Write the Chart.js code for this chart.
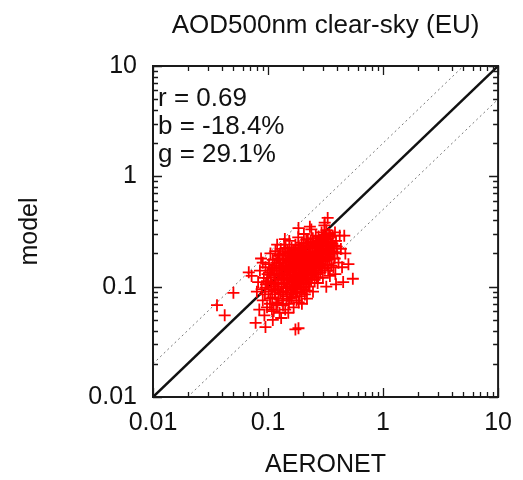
<!DOCTYPE html>
<html>
<head>
<meta charset="utf-8">
<script src="https://cdn.jsdelivr.net/npm/chart.js@4"></script>
<style>
  html, body { margin: 0; padding: 0; background: #fff; }
  canvas { display: block; }
</style>
</head>
<body>
<canvas id="c" width="523" height="480"></canvas>
<script>
// AOD at 500 nm, clear-sky days, European stations: AERONET (x) vs model (y)
const aeronetAod = [
  0.036, 0.042, 0.050, 0.068, 0.072, 0.078, 0.095, 0.173, 0.184, 0.546,
  0.082, 0.085, 0.088, 0.090, 0.090, 0.092, 0.094, 0.095, 0.096, 0.098,
  0.099, 0.080, 0.084, 0.087, 0.093, 0.110, 0.130, 0.150, 0.120, 0.140,
  0.100, 0.101, 0.102, 0.104, 0.105, 0.106, 0.108, 0.109, 0.110, 0.111,
  0.112, 0.113, 0.115, 0.116, 0.117, 0.118, 0.120, 0.121, 0.122, 0.123,
  0.124, 0.125, 0.126, 0.127, 0.128, 0.129, 0.130, 0.100, 0.103, 0.107,
  0.114, 0.119, 0.121, 0.124, 0.128,
  0.131, 0.132, 0.133, 0.134, 0.135, 0.136, 0.137, 0.138, 0.139, 0.140,
  0.141, 0.142, 0.143, 0.144, 0.145, 0.146, 0.147, 0.148, 0.149, 0.150,
  0.151, 0.152, 0.153, 0.154, 0.155, 0.156, 0.157, 0.158, 0.159, 0.160,
  0.161, 0.162, 0.163, 0.164, 0.165, 0.166, 0.167, 0.168, 0.169, 0.170,
  0.133, 0.137, 0.141, 0.146, 0.149, 0.154, 0.158, 0.163, 0.166, 0.169,
  0.171, 0.172, 0.173, 0.174, 0.175, 0.176, 0.177, 0.178, 0.179, 0.180,
  0.181, 0.182, 0.183, 0.184, 0.185, 0.186, 0.187, 0.188, 0.189, 0.190,
  0.191, 0.192, 0.193, 0.194, 0.195, 0.196, 0.197, 0.198, 0.199, 0.200,
  0.201, 0.202, 0.203, 0.204, 0.205, 0.206, 0.207, 0.208, 0.209, 0.210,
  0.211, 0.212, 0.213, 0.214, 0.215, 0.216, 0.217, 0.218, 0.219, 0.220,
  0.174, 0.178, 0.183, 0.187, 0.192, 0.196, 0.201, 0.205, 0.210, 0.214, 0.218,
  0.222, 0.224, 0.226, 0.228, 0.230, 0.232, 0.234, 0.236, 0.238, 0.240,
  0.242, 0.244, 0.246, 0.248, 0.250, 0.252, 0.254, 0.256, 0.258, 0.260,
  0.262, 0.264, 0.266, 0.268, 0.270, 0.272, 0.274, 0.276, 0.278, 0.280,
  0.225, 0.231, 0.237, 0.243, 0.249, 0.255, 0.261, 0.267, 0.273, 0.279,
  0.283, 0.286, 0.289, 0.292, 0.295, 0.298, 0.300, 0.303, 0.306, 0.309,
  0.312, 0.315, 0.318, 0.321, 0.324, 0.327, 0.330, 0.333, 0.336, 0.339,
  0.342, 0.345, 0.348, 0.351, 0.355, 0.288, 0.297, 0.311, 0.320, 0.331,
  0.340, 0.231, 0.184, 0.330,
  0.360, 0.365, 0.370, 0.375, 0.380, 0.385, 0.390, 0.400, 0.410, 0.420,
  0.430, 0.440, 0.460, 0.470, 0.500, 0.450, 0.390,
  0.125, 0.135, 0.145, 0.155, 0.165, 0.175, 0.185, 0.195, 0.205, 0.215,
  0.225, 0.235, 0.245, 0.255, 0.265, 0.275, 0.285, 0.295, 0.305, 0.315,
  0.145, 0.155, 0.165, 0.175, 0.185, 0.195, 0.205, 0.215, 0.225, 0.235,
  0.245, 0.255, 0.265, 0.275, 0.285, 0.295, 0.305, 0.315, 0.325, 0.335,
  0.110, 0.118, 0.126, 0.134, 0.142, 0.152, 0.162, 0.172, 0.182, 0.192,
  0.202, 0.212, 0.222, 0.232, 0.242, 0.252, 0.262, 0.272, 0.282, 0.292,
  0.302, 0.312, 0.322, 0.332, 0.346, 0.352, 0.362, 0.372, 0.382, 0.395,
  0.095, 0.105, 0.115, 0.125, 0.135, 0.105, 0.115, 0.098, 0.108, 0.118,
  0.135, 0.145, 0.155, 0.165, 0.175, 0.185, 0.195, 0.205, 0.215, 0.225
];
const modelAod = [
  0.068, 0.055, 0.088, 0.135, 0.125, 0.047, 0.043, 0.041, 0.042, 0.118,
  0.110, 0.140, 0.095, 0.165, 0.075, 0.120, 0.085, 0.150, 0.105, 0.065,
  0.130, 0.090, 0.062, 0.180, 0.055, 0.050, 0.052, 0.058, 0.240, 0.270,
  0.120, 0.090, 0.160, 0.070, 0.200, 0.110, 0.140, 0.080, 0.175, 0.100,
  0.060, 0.130, 0.085, 0.210, 0.115, 0.150, 0.095, 0.072, 0.125, 0.190,
  0.105, 0.165, 0.058, 0.140, 0.088, 0.220, 0.118, 0.105, 0.135, 0.095,
  0.155, 0.068, 0.180, 0.078, 0.155,
  0.100, 0.145, 0.075, 0.200, 0.120, 0.090, 0.165, 0.240, 0.108, 0.135,
  0.062, 0.180, 0.097, 0.155, 0.118, 0.082, 0.210, 0.128, 0.105, 0.170,
  0.145, 0.070, 0.260, 0.115, 0.190, 0.092, 0.135, 0.160, 0.110, 0.225,
  0.080, 0.150, 0.125, 0.185, 0.100, 0.140, 0.065, 0.200, 0.120, 0.165,
  0.130, 0.115, 0.150, 0.100, 0.190, 0.135, 0.085, 0.110, 0.175, 0.095,
  0.130, 0.098, 0.240, 0.155, 0.112, 0.180, 0.075, 0.140, 0.205, 0.120,
  0.090, 0.170, 0.280, 0.145, 0.105, 0.190, 0.130, 0.082, 0.160, 0.220,
  0.118, 0.150, 0.100, 0.185, 0.135, 0.250, 0.070, 0.165, 0.125, 0.200,
  0.145, 0.095, 0.175, 0.115, 0.300, 0.155, 0.135, 0.210, 0.085, 0.170,
  0.125, 0.190, 0.148, 0.105, 0.235, 0.160, 0.130, 0.078, 0.180, 0.140,
  0.125, 0.165, 0.110, 0.200, 0.135, 0.115, 0.180, 0.120, 0.155, 0.195, 0.110,
  0.270, 0.120, 0.195, 0.155, 0.100, 0.220, 0.140, 0.175, 0.330, 0.125,
  0.200, 0.160, 0.090, 0.250, 0.145, 0.185, 0.115, 0.210, 0.165, 0.290,
  0.130, 0.190, 0.150, 0.240, 0.108, 0.175, 0.210, 0.140, 0.260, 0.160,
  0.165, 0.185, 0.115, 0.235, 0.170, 0.135, 0.205, 0.170, 0.120, 0.195,
  0.220, 0.135, 0.180, 0.310, 0.155, 0.200, 0.120, 0.245, 0.170, 0.360,
  0.145, 0.215, 0.185, 0.100, 0.270, 0.160, 0.230, 0.140, 0.195, 0.300,
  0.175, 0.125, 0.250, 0.210, 0.155, 0.250, 0.175, 0.380, 0.235, 0.185,
  0.210, 0.350, 0.340, 0.420,
  0.200, 0.290, 0.150, 0.235, 0.180, 0.130, 0.260, 0.200, 0.165, 0.290,
  0.220, 0.150, 0.290, 0.200, 0.160, 0.110, 0.105,
  0.175, 0.155, 0.165, 0.205, 0.215, 0.195, 0.235, 0.215, 0.245, 0.265,
  0.235, 0.255, 0.275, 0.225, 0.225, 0.285, 0.265, 0.280, 0.290, 0.255,
  0.125, 0.145, 0.112, 0.102, 0.152, 0.108, 0.128, 0.118, 0.142, 0.158,
  0.132, 0.152, 0.122, 0.185, 0.158, 0.148, 0.205, 0.172, 0.212, 0.245,
  0.145, 0.165, 0.195, 0.175, 0.225, 0.205, 0.195, 0.215, 0.185, 0.175,
  0.225, 0.205, 0.182, 0.198, 0.182, 0.225, 0.242, 0.228, 0.205, 0.235,
  0.265, 0.295, 0.325, 0.275, 0.285, 0.230, 0.245, 0.205, 0.310, 0.230,
  0.098, 0.128, 0.108, 0.132, 0.085, 0.078, 0.092, 0.112, 0.062, 0.070,
  0.068, 0.075, 0.078, 0.088, 0.090, 0.072, 0.088, 0.098, 0.092, 0.108
];

// reference lines: 1:1 and factor-of-two envelope
const oneToOneX = [0.01, 10];
const oneToOneY = [0.01, 10];
const upperX = [0.01, 5];
const upperY = [0.02, 10];
const lowerX = [0.02, 10];
const lowerY = [0.01, 5];

// axis decades and their labels
const decades = [0.01, 0.1, 1, 10];
const decadeLabels = ['0.01', '0.1', '1', '10'];

// summary statistics printed in the upper-left corner
const statsLines = ['r = 0.69', 'b = -18.4%', 'g = 29.1%'];

const FONT = '"Liberation Sans", Arial, Helvetica, sans-serif';
const toPoints = (xs, ys) => xs.map((v, i) => ({ x: v, y: ys[i] }));

function logTicks(scale) {
  const t = [];
  for (let d = 0; d < decades.length - 1; d++) {
    for (let m = 1; m <= 9; m++) t.push({ value: +(decades[d] * m).toPrecision(3) });
  }
  t.push({ value: decades[decades.length - 1] });
  scale.ticks = t;
}
function labelFor(value) {
  const i = decades.indexOf(value);
  return i >= 0 ? decadeLabels[i] : '';
}

// inward tick marks on all four sides, the frame, and the statistics text
const frameTicks = {
  id: 'frameTicks',
  afterDraw(chart) {
    const { ctx, chartArea: a, scales: { x, y } } = chart;
    ctx.save();
    ctx.strokeStyle = '#1a1a1a';
    ctx.lineWidth = 1.3;
    ctx.beginPath();
    x.ticks.forEach(t => {
      const px = Math.round(x.getPixelForValue(t.value)) + 0.5;
      const len = decades.includes(t.value) ? 9 : 5;
      ctx.moveTo(px, a.bottom); ctx.lineTo(px, a.bottom - len);
      ctx.moveTo(px, a.top); ctx.lineTo(px, a.top + len);
    });
    y.ticks.forEach(t => {
      const py = Math.round(y.getPixelForValue(t.value)) + 0.5;
      const len = decades.includes(t.value) ? 9 : 5;
      ctx.moveTo(a.left, py); ctx.lineTo(a.left + len, py);
      ctx.moveTo(a.right, py); ctx.lineTo(a.right - len, py);
    });
    ctx.stroke();
    ctx.lineWidth = 2;
    ctx.strokeRect(a.left, a.top, a.right - a.left, a.bottom - a.top);

    ctx.fillStyle = '#111';
    ctx.font = '26px ' + FONT;
    ctx.textAlign = 'left';
    ctx.textBaseline = 'middle';
    statsLines.forEach((s, i) => ctx.fillText(s, a.left + 5, a.top + 33 + i * 28));
    ctx.restore();
  }
};

const axisCommon = (title, isX) => ({
  type: 'logarithmic',
  min: 0.01,
  max: 10,
  afterBuildTicks: logTicks,
  grid: { display: false, drawTicks: false },
  border: { display: false },
  ticks: {
    autoSkip: false,
    maxRotation: 0,
    color: '#111',
    font: { family: FONT, size: 25 },
    padding: isX ? 11 : 16,
    callback: v => labelFor(v)
  },
  title: {
    display: true,
    text: title,
    color: '#111',
    font: { family: FONT, size: 25 },
    padding: isX ? { top: 0, bottom: 0 } : { top: 15, bottom: 0 }
  }
});

new Chart(document.getElementById('c'), {
  type: 'scatter',
  data: {
    datasets: [
      {
        label: 'stations',
        data: toPoints(aeronetAod, modelAod),
        pointStyle: 'cross',
        pointRadius: 6,
        pointBorderWidth: 1.8,
        borderColor: '#ff0000',
        backgroundColor: '#ff0000'
      },
      {
        label: '1:1',
        data: toPoints(oneToOneX, oneToOneY),
        showLine: true,
        pointRadius: 0,
        borderColor: '#111',
        borderWidth: 2.5
      },
      {
        label: 'x2',
        data: toPoints(upperX, upperY),
        showLine: true,
        pointRadius: 0,
        borderColor: '#777',
        borderWidth: 1,
        borderDash: [2, 3]
      },
      {
        label: 'x1/2',
        data: toPoints(lowerX, lowerY),
        showLine: true,
        pointRadius: 0,
        borderColor: '#777',
        borderWidth: 1,
        borderDash: [2, 3]
      }
    ]
  },
  options: {
    responsive: false,
    animation: false,
    devicePixelRatio: 1,
    events: [],
    layout: { padding: { left: 0, right: 21, top: 0, bottom: 0 } },
    plugins: {
      legend: { display: false },
      tooltip: { enabled: false },
      title: {
        display: true,
        fullSize: false,
        text: 'AOD500nm clear-sky (EU)',
        color: '#111',
        font: { family: FONT, size: 26, weight: 'normal' },
        padding: { top: 10, bottom: 24.8 }
      }
    },
    scales: {
      x: Object.assign(axisCommon('AERONET', true), {
        afterFit: s => { s.height = 83; }
      }),
      y: Object.assign(axisCommon('model', false), {
        afterFit: s => { s.width = 153; }
      })
    }
  },
  plugins: [frameTicks]
});
</script>
</body>
</html>
